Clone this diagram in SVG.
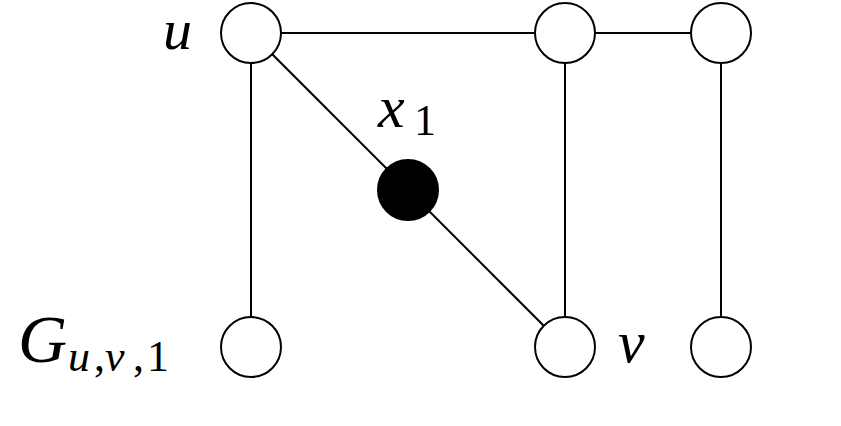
<svg xmlns="http://www.w3.org/2000/svg" width="841" height="426" viewBox="0 0 841 426">
<style>
.e{stroke:#000;stroke-width:2;fill:none}
.n{fill:#fff;stroke:#000;stroke-width:2}
.f{fill:#000;stroke:#000;stroke-width:2}
.t{font-family:"Liberation Serif","DejaVu Serif",serif;font-style:italic;fill:#000}
.r{font-style:normal}
</style>
<rect width="841" height="426" fill="#fff"/>
<g id="connectors">
<line class="e" x1="251" y1="33" x2="565" y2="33"/>
<line class="e" x1="565" y1="33" x2="721" y2="33"/>
<line class="e" x1="251" y1="33" x2="251" y2="347"/>
<line class="e" x1="565" y1="33" x2="565" y2="347"/>
<line class="e" x1="721" y1="33" x2="721" y2="347"/>
<line class="e" x1="251" y1="33" x2="565" y2="347"/>
</g>
<g id="node-u"><circle class="n" cx="251" cy="33" r="30"/><text class="t" x="163" y="49" font-size="58">u</text></g>
<g id="node-top-mid"><circle class="n" cx="565" cy="33" r="30"/></g>
<g id="node-top-right"><circle class="n" cx="721" cy="33" r="30"/></g>
<g id="node-x1"><circle class="f" cx="408" cy="190" r="30"/><text class="t" x="378" y="127" font-size="60">x<tspan class="r" x="414" y="135" font-size="44">1</tspan></text></g>
<g id="node-G"><circle class="n" cx="251" cy="347" r="30"/><text class="t" x="18" y="362" font-size="68">G<tspan x="68" y="371" font-size="44">u</tspan><tspan class="r" x="94" y="371" font-size="44">,</tspan><tspan x="105" y="371" font-size="44">v</tspan><tspan class="r" x="133" y="371" font-size="44">,</tspan><tspan class="r" x="147" y="371" font-size="44">1</tspan></text></g>
<g id="node-v"><circle class="n" cx="565" cy="347" r="30"/><text class="t" x="618" y="362" font-size="60">v</text></g>
<g id="node-bottom-right"><circle class="n" cx="721" cy="347" r="30"/></g>
</svg>
